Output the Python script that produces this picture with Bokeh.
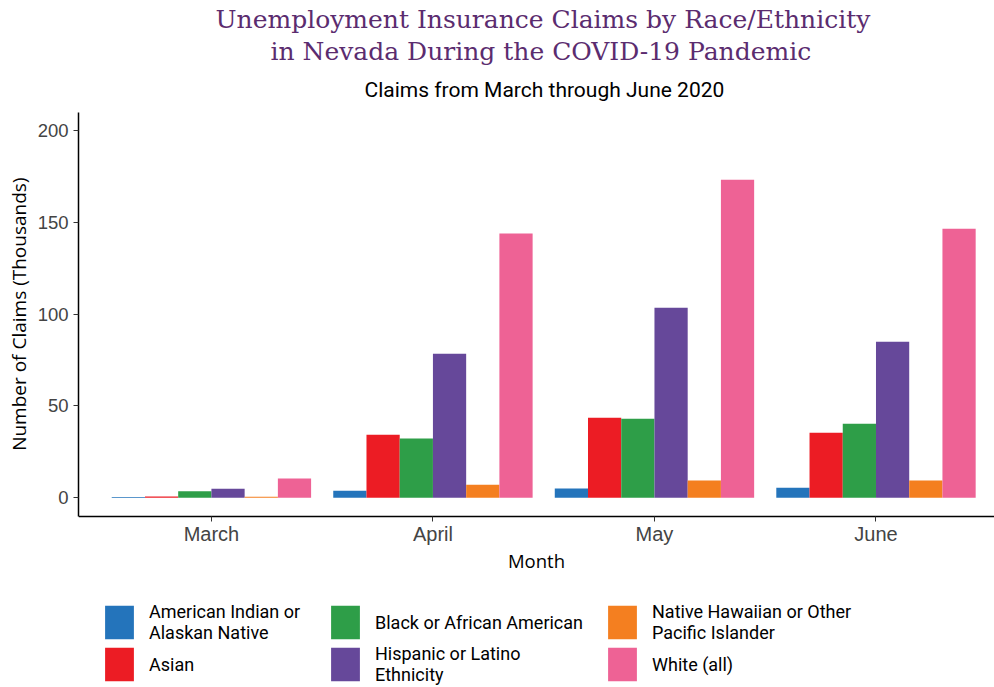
from bokeh.plotting import figure
from bokeh.models import (ColumnDataSource, Range1d, FixedTicker, Title, Legend, LegendItem)
from bokeh.transform import dodge
from bokeh.embed import file_html
from bokeh.resources import INLINE

months = ["March", "April", "May", "June"]
month_pos = [1, 2, 3, 4]

series_names = [
    "American Indian or\nAlaskan Native",
    "Asian",
    "Black or African American",
    "Hispanic or Latino\nEthnicity",
    "Native Hawaiian or Other\nPacific Islander",
    "White (all)",
]
american_indian = [0.3, 3.8, 5.0, 5.4]
asian = [0.7, 34.3, 43.6, 35.4]
black = [3.5, 32.2, 43.0, 40.3]
hispanic = [4.8, 78.5, 103.5, 85.0]
hawaiian = [0.5, 7.0, 9.3, 9.3]
white = [10.5, 144.0, 173.3, 146.6]

colors = ["#2474BB", "#EC1C24", "#2E9E48", "#66489A", "#F47F20", "#EE6295"]
y_ticks = [0, 50, 100, 150, 200]
y_min, y_max = -10.3, 210   # extent of the value axis

cols = ["ai", "asian", "black", "hisp", "nhpi", "white"]
source = ColumnDataSource(dict(x=month_pos, ai=american_indian, asian=asian,
                               black=black, hisp=hispanic, nhpi=hawaiian, white=white))

# frame extends below the x axis so that the legend can sit inside it
p = figure(width=994, height=687, output_backend="svg", toolbar_location=None,
           x_range=Range1d(0.4, 4.535), y_range=Range1d(-103.5, y_max),
           min_border_left=78, min_border_right=0, min_border_top=112, min_border_bottom=0)
p.outline_line_color = None
p.xgrid.grid_line_color = None
p.ygrid.grid_line_color = None

bw = 0.15
renderers = []
for i, (c, col) in enumerate(zip(cols, colors)):
    off = (i - 2.5) * bw
    r = p.vbar(x=dodge("x", off, range=p.x_range), top=c, width=bw, bottom=0,
               source=source, fill_color=col, line_color=None)
    renderers.append(r)

# axes
p.xaxis.fixed_location = y_min
p.xaxis.ticker = FixedTicker(ticks=month_pos)
p.xaxis.major_label_overrides = {pos: m for pos, m in zip(month_pos, months)}
p.xaxis.minor_tick_line_color = None
p.yaxis.ticker = FixedTicker(ticks=y_ticks)
p.yaxis.bounds = (y_min, y_max)
p.yaxis.minor_tick_line_color = None
for ax in (p.xaxis, p.yaxis):
    ax.axis_line_color = "black"
    ax.axis_line_width = 1.5
    ax.major_tick_line_color = "#333333"
    ax.major_tick_out = 5
    ax.major_tick_in = 0
    ax.major_label_text_font = "Liberation Sans"
    ax.major_label_text_color = "#444444"
    ax.axis_label_text_font = "Open Sans"
    ax.axis_label_text_font_size = "18.5px"
    ax.axis_label_text_font_style = "normal"
    ax.axis_label_text_color = "black"
p.xaxis.major_label_text_font_size = "20px"
p.yaxis.major_label_text_font_size = "18.5px"
p.xaxis.major_label_standoff = 1
p.yaxis.major_label_standoff = 5
p.xaxis.axis_label = "Month"
p.xaxis.axis_label_standoff = 0

# value-axis title, aligned with the 0-200 span of the axis
ytitle = Title(text="Number of Claims (Thousands)", align="right", offset=65,
               text_font="Open Sans", text_font_size="19px", text_font_style="normal",
               text_color="black", standoff=6)
p.add_layout(ytitle, "left")

sub = Title(text="Claims from March through June 2020", align="left",
            text_font="Roboto", text_font_size="21px", text_font_style="normal",
            text_color="black", standoff=21, offset=286)
t2 = Title(text="in Nevada During the COVID-19 Pandemic", align="left",
           text_font="DejaVu Serif", text_font_size="25px", text_font_style="normal",
           text_color="#5B2C6F", standoff=0, offset=192)
t1 = Title(text="Unemployment Insurance Claims by Race/Ethnicity", align="left",
           text_font="DejaVu Serif", text_font_size="25px", text_font_style="normal",
           text_color="#5B2C6F", standoff=1, offset=137)
p.add_layout(sub, "above")
p.add_layout(t2, "above")
p.add_layout(t1, "above")

# legend: three columns of two entries each, under the axis title
col_x = [23, 249, 526]
for k in range(3):
    its = [LegendItem(label=series_names[j], renderers=[renderers[j]])
           for j in (2 * k, 2 * k + 1)]
    lg = Legend(items=its, orientation="vertical", location=(col_x[k], 2),
                glyph_width=36, glyph_height=42, label_height=42, spacing=0,
                label_standoff=12, label_text_font="Roboto",
                label_text_font_size="18px", label_text_color="black",
                border_line_color=None, background_fill_alpha=0,
                padding=0, margin=0)
    p.add_layout(lg, "center")

open("out.html", "w").write(file_html(p, INLINE))
